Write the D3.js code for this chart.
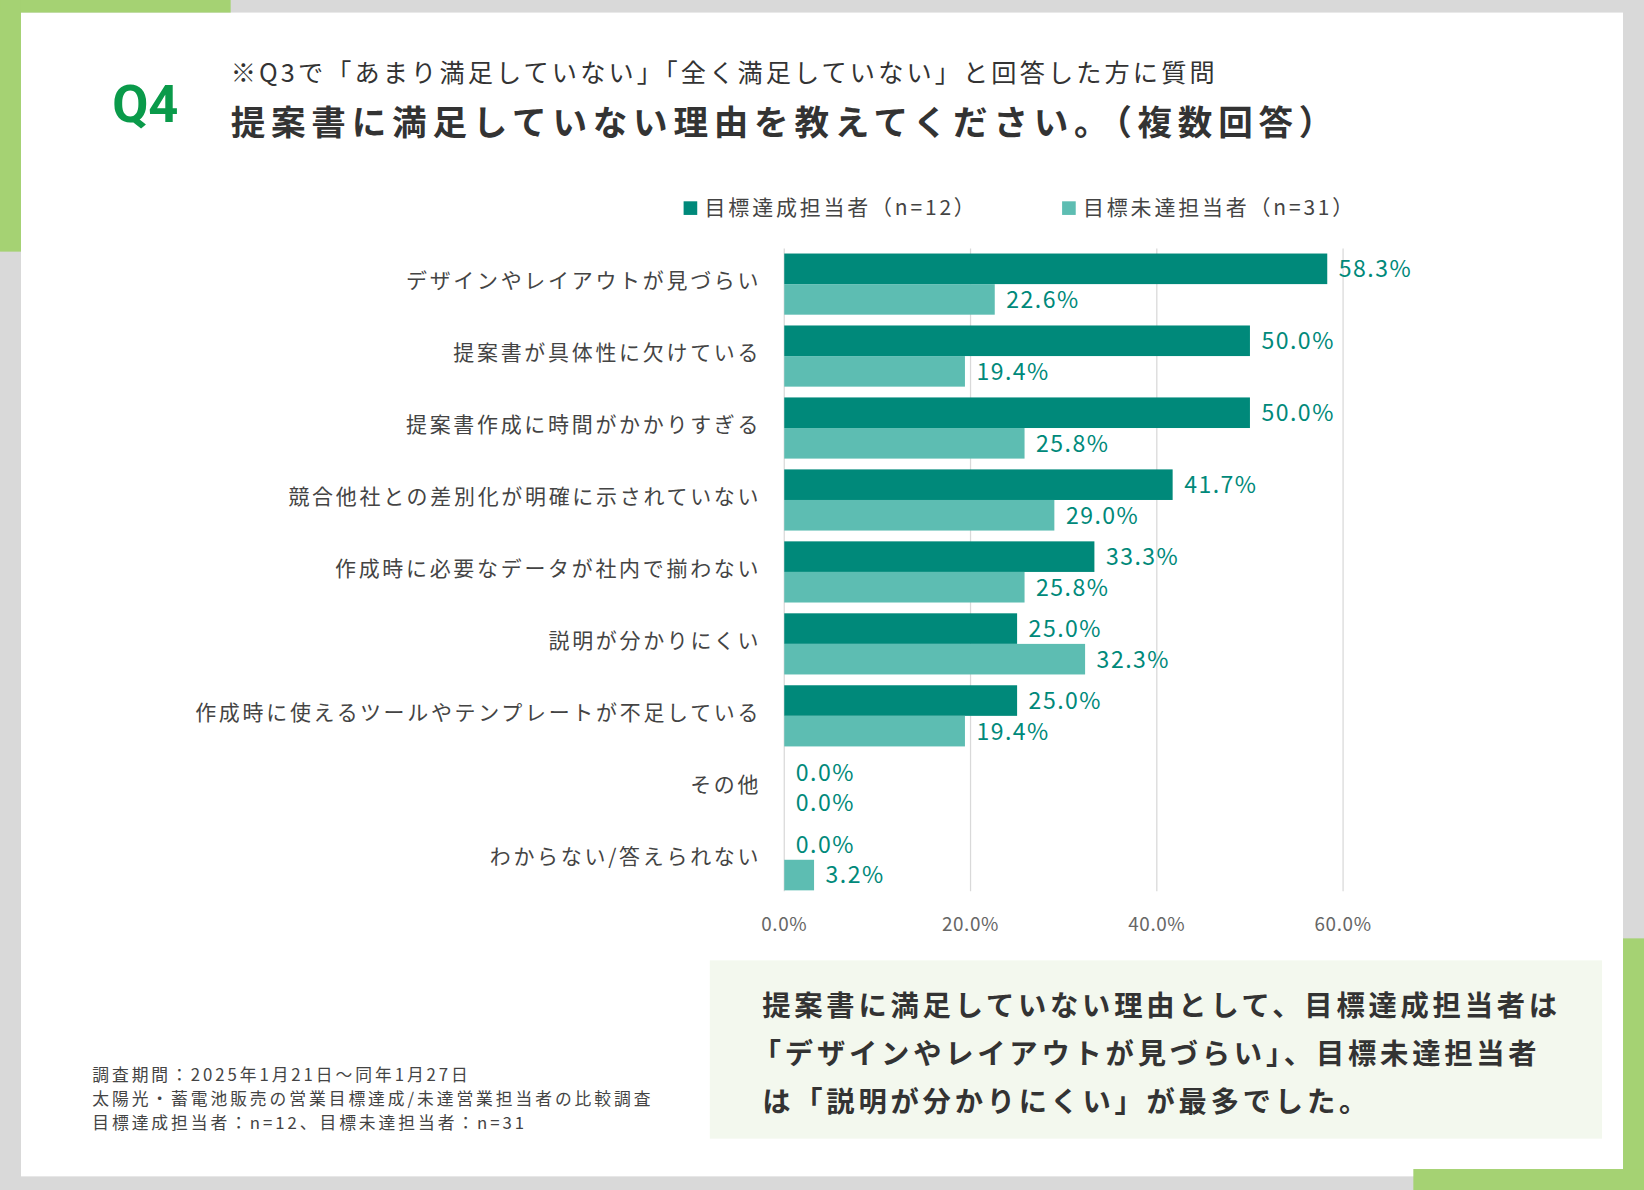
<!DOCTYPE html>
<html><head><meta charset="utf-8">
<script src="https://cdn.jsdelivr.net/npm/d3@7"></script>
<style>body{margin:0;background:#d9d9d9}svg{display:block;font-family:"Noto Sans CJK JP","Noto Sans",sans-serif}</style>
</head><body>
<svg id="c" width="1644" height="1190" viewBox="0 0 1568 1135"></svg>
<script>
const categories = ["デザインやレイアウトが見づらい","提案書が具体性に欠けている","提案書作成に時間がかかりすぎる","競合他社との差別化が明確に示されていない","作成時に必要なデータが社内で揃わない","説明が分かりにくい","作成時に使えるツールやテンプレートが不足している","その他","わからない/答えられない"];
const achieved = [58.3,50.0,50.0,41.7,33.3,25.0,25.0,0.0,0.0];
const missed = [22.6,19.4,25.8,29.0,25.8,32.3,19.4,0.0,3.2];
const seriesNames = ["目標達成担当者（n=12）","目標未達担当者（n=31）"];
const ticks = [0,20,40,60];
const colors = ["#00897a","#5dbdb2"];

const svg = d3.select("#c");
svg.append("rect").attr("width",1568).attr("height",1135).attr("fill","#d9d9d9");
svg.append("rect").attr("x",20).attr("y",12).attr("width",1528).attr("height",1110).attr("fill","#fff");
const g1 = "#a5d273";
svg.append("rect").attr("x",0).attr("y",0).attr("width",220).attr("height",12).attr("fill",g1);
svg.append("rect").attr("x",0).attr("y",0).attr("width",20).attr("height",240).attr("fill",g1);
svg.append("rect").attr("x",1548).attr("y",895).attr("width",20).attr("height",240).attr("fill",g1);
svg.append("rect").attr("x",1348).attr("y",1115).attr("width",220).attr("height",20).attr("fill",g1);

svg.append("text").attr("x",107).attr("y",116).attr("font-size",50).attr("font-weight",700).attr("fill","#0a9a4a").attr("font-family","Roboto,sans-serif").text("Q4");
svg.append("text").attr("x",220).attr("y",78).attr("font-size",24).attr("letter-spacing",3).attr("fill","#333").text("※Q3で「あまり満足していない」「全く満足していない」と回答した方に質問");
svg.append("text").attr("x",220).attr("y",129).attr("font-size",33).attr("letter-spacing",5.5).attr("font-weight",700).attr("fill","#333").text("提案書に満足していない理由を教えてください。（複数回答）");

// legend
[[652,0],[1013,1]].forEach(([x,i])=>{
  svg.append("rect").attr("x",x).attr("y",192).attr("width",13).attr("height",13).attr("fill",colors[i]);
  svg.append("text").attr("x",x+20).attr("y",205).attr("font-size",20).attr("letter-spacing",2.7).attr("fill","#444").text(seriesNames[i]);
});

const x = d3.scaleLinear().domain([0,60]).range([748,1281]);
const y = d3.scaleBand().domain(categories).range([237,854]).paddingInner(0.15).paddingOuter(0.07);
const sub = d3.scaleBand().domain([0,1]).range([0,y.bandwidth()]);

svg.append("g").selectAll("line").data(ticks).join("line")
  .attr("x1",d=>x(d)).attr("x2",d=>x(d)).attr("y1",237).attr("y2",850)
  .attr("stroke","#d9d9d9").attr("stroke-width",1.2);
svg.append("g").selectAll("text").data(ticks).join("text")
  .attr("x",d=>x(d)).attr("y",888).attr("text-anchor","middle").attr("font-size",18).attr("letter-spacing",0.6).attr("fill","#666")
  .text(d=>d.toFixed(1)+"%");

svg.append("g").selectAll("text").data(categories).join("text")
  .attr("x",726).attr("y",d=>y(d)+y.bandwidth()/2+4).attr("text-anchor","end").attr("font-size",20).attr("letter-spacing",2.6).attr("fill","#444").text(d=>d);

[achieved,missed].forEach((vals,s)=>{
  const gg = svg.append("g");
  gg.selectAll("rect").data(vals).join("rect")
    .attr("x",x(0)).attr("y",(d,i)=>y(categories[i])+sub(s)).attr("width",d=>x(d)-x(0)).attr("height",sub.bandwidth()).attr("fill",colors[s]);
  gg.selectAll("text").data(vals).join("text")
    .attr("x",d=>x(d)+11).attr("y",(d,i)=>y(categories[i])+sub(s)+sub.bandwidth()/2+8)
    .attr("font-size",22).attr("letter-spacing",1.4).attr("fill","#00897a").text(d=>d.toFixed(1)+"%");
});

svg.append("rect").attr("x",677).attr("y",916).attr("width",851).attr("height",170).attr("fill","#f3f8ee");
["提案書に満足していない理由として、目標達成担当者は","「デザインやレイアウトが見づらい」、目標未達担当者","は「説明が分かりにくい」が最多でした。"].forEach((t,i)=>{
  svg.append("text").attr("x",i==1?718:727).attr("y",969+i*46).attr("font-size",27).attr("letter-spacing",3.6).attr("font-weight",700).attr("fill","#333").text(t);
});
["調査期間：2025年1月21日～同年1月27日","太陽光・蓄電池販売の営業目標達成/未達営業担当者の比較調査","目標達成担当者：n=12、目標未達担当者：n=31"].forEach((t,i)=>{
  svg.append("text").attr("x",88).attr("y",1031+i*23).attr("font-size",16).attr("letter-spacing",2.8).attr("fill","#444").text(t);
});
</script>
</body></html>
